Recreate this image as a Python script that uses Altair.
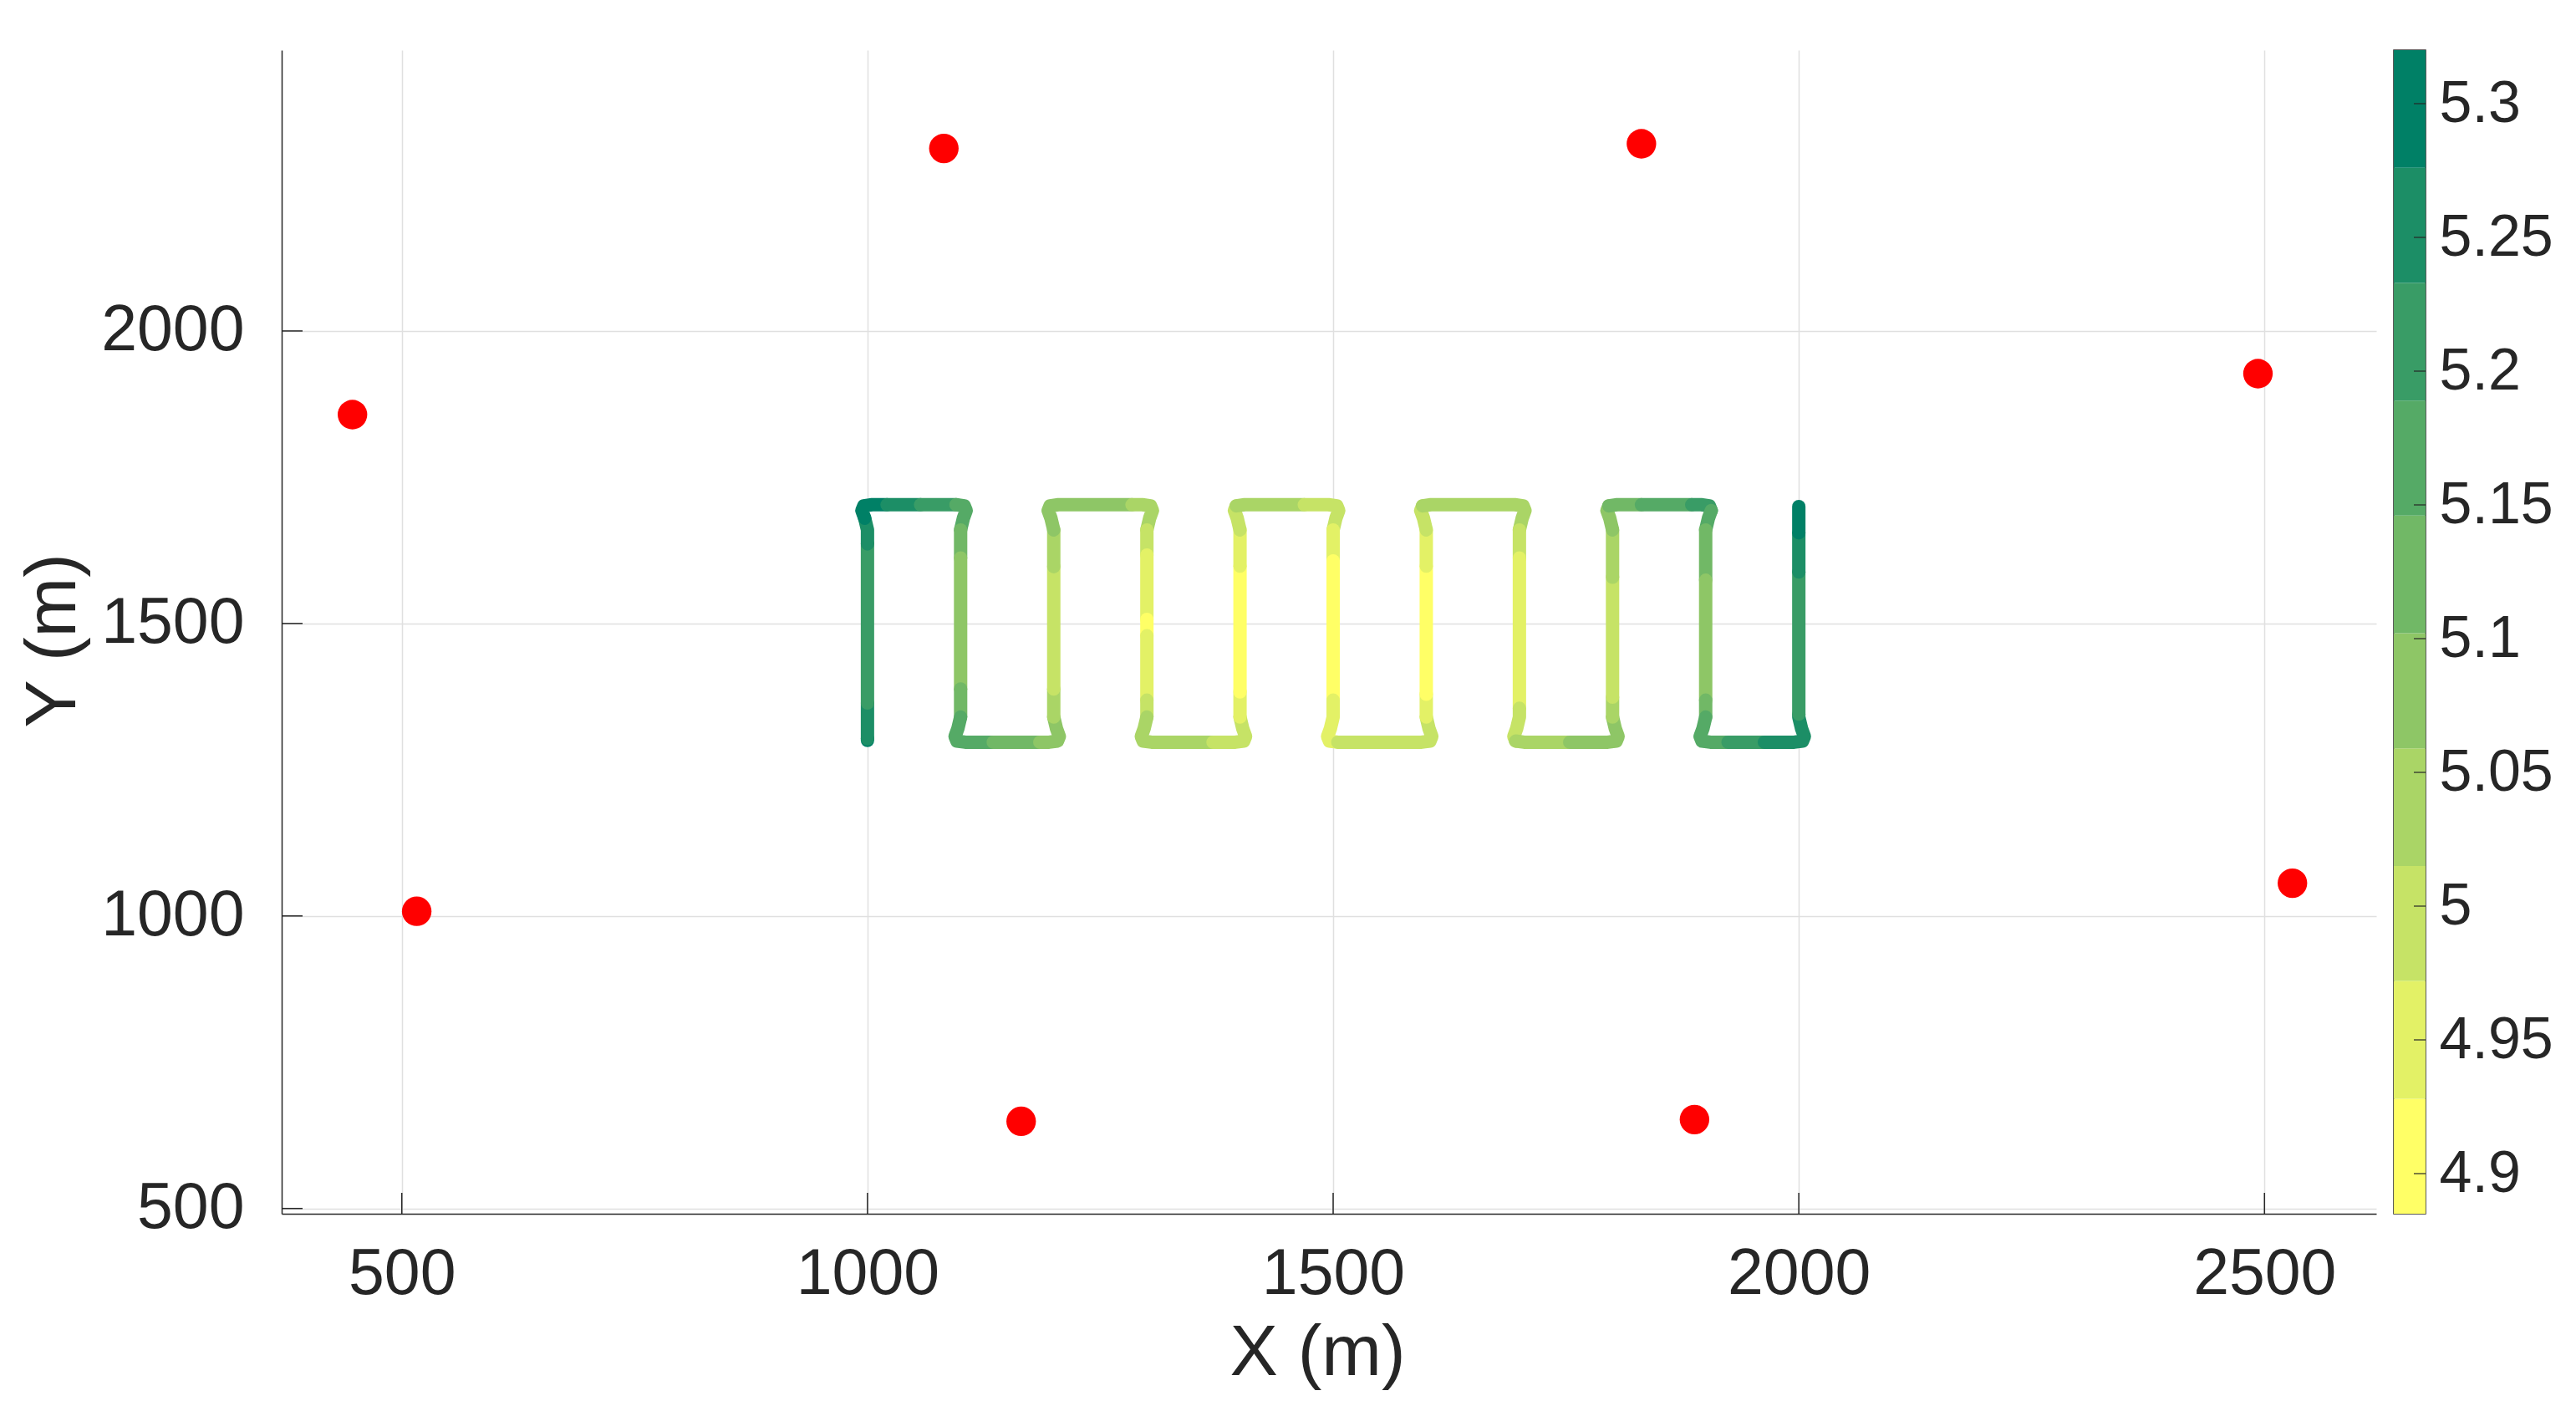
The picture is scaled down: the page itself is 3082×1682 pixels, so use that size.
import altair as alt
import pandas as pd

# ---------------- axes ----------------
X_DOMAIN = [371, 2620]
Y_DOMAIN = [491, 2480]
X_TICKS = [500, 1000, 1500, 2000, 2500]
Y_TICKS = [500, 1000, 1500, 2000]

# ---------------- red anchor points ----------------
ANCHOR_X = [447, 516, 1082, 1165, 1831, 1888, 2493, 2530]
ANCHOR_Y = [1857, 1008, 2312, 649, 2320, 652, 1927, 1056]

# ---------------- colour bar (10 filled levels) ----------------
LEVEL_EDGES = [4.885, 4.928, 4.972, 5.015, 5.059, 5.102, 5.146, 5.189, 5.233, 5.276, 5.320]
LEVEL_COLORS = ["#ffff66", "#e3f166", "#c6e366", "#aad566", "#8ec666",
                "#71b866", "#55aa66", "#399c66", "#1c8e66", "#008066"]
CBAR_TICKS = [4.9, 4.95, 5.0, 5.05, 5.1, 5.15, 5.2, 5.25, 5.3]

# ---------------- survey path ----------------
LANE_X = [1000, 1100, 1200, 1300, 1400, 1500, 1600, 1700, 1800, 1900, 2000]
PATH_START_Y = 1300
PATH_END_Y = 1700
LANE_LOW = 1340
LANE_HIGH = 1660
# turn template (offsets from lane end), with a station number for colour breaks
CORNER_IN_DX = [0, -3, -6, -4, 5]
CORNER_IN_DY = [0, 20, 33, 41, 43]
CORNER_IN_ST = [-40, -30, -20, -10, 5]
CORNER_OUT_DX = [95, 104, 106, 103, 100]
CORNER_OUT_DY = [43, 41, 33, 20, 0]
CORNER_OUT_ST = [95, 110, 120, 130, 140]

# colour level changes along each lane, in travel order: (y, level)
LANE_BANDS = [
    [(1300, 9), (1303, 8), (1364, 7), (1636, 8)],
    [(1660, 5), (1612, 4), (1388, 5)],
    [(1340, 3), (1388, 2), (1597, 3)],
    [(1660, 2), (1617, 1), (1507, 0), (1479, 1), (1369, 2)],
    [(1340, 1), (1383, 0), (1598, 1)],
    [(1660, 1), (1607, 0), (1369, 1)],
    [(1340, 1), (1379, 0), (1598, 1)],
    [(1660, 2), (1612, 1), (1355, 2)],
    [(1340, 3), (1374, 2), (1579, 3)],
    [(1660, 5), (1574, 4), (1369, 5)],
    [(1340, 8), (1345, 7), (1588, 8), (1655, 9)],
]
# colour level changes along each turn: (station, level)
TURN_BANDS = [
    [(-40, 8), (-30, 9), (21, 8), (57, 7), (95, 6)],
    [(-40, 6), (35, 5), (85, 4)],
    [(-40, 4), (84, 3)],
    [(-40, 3), (71, 2)],
    [(-40, 2), (-10, 3), (69, 2)],
    [(-40, 1), (5, 2)],
    [(-40, 2), (-10, 3)],
    [(-40, 2), (-10, 3), (54, 4)],
    [(-40, 4), (-10, 5), (31, 6), (85, 7), (120, 6)],
    [(-40, 6), (24, 7), (63, 8)],
]

# ---------------- build path table ----------------
verts = []


def push(x, y, band=None):
    if verts and abs(verts[-1][0] - x) < 1e-9 and abs(verts[-1][1] - y) < 1e-9:
        if band is not None:
            verts[-1][2] = band
        return
    verts.append([x, y, band])


n_lanes = len(LANE_X)
for i, lx in enumerate(LANE_X):
    up = (i % 2 == 0)
    y0 = PATH_START_Y if i == 0 else (LANE_LOW if up else LANE_HIGH)
    push(lx, y0)
    for yb, b in LANE_BANDS[i]:
        push(lx, yb, b)
    if i == n_lanes - 1:
        push(lx, PATH_END_Y)
        break
    sign = 1 if up else -1
    base = LANE_HIGH if up else LANE_LOW
    spec = dict(TURN_BANDS[i])
    tv = []
    for dx, dy, st in zip(CORNER_IN_DX, CORNER_IN_DY, CORNER_IN_ST):
        tv.append((st, lx + dx, base + sign * dy))
    for st in spec:
        if 5 < st < 95:
            tv.append((st, lx + st, base + sign * CORNER_IN_DY[-1]))
    for dx, dy, st in zip(CORNER_OUT_DX, CORNER_OUT_DY, CORNER_OUT_ST):
        tv.append((st, lx + dx, base + sign * dy))
    tv.sort(key=lambda t: t[0])
    for st, x, y in tv:
        push(x, y, spec.get(st))

bands = []
cur = None
for v in verts:
    if v[2] is not None:
        cur = v[2]
    bands.append(cur)

rows = []
run_id = -1
prev = None
cnt = 0
for k in range(len(verts) - 1):
    if bands[k] != prev:
        run_id += 1
        prev = bands[k]
        cnt = 0
        rows.append(dict(run=run_id, order=cnt, x=verts[k][0], y=verts[k][1], band=bands[k]))
    cnt += 1
    rows.append(dict(run=run_id, order=cnt, x=verts[k + 1][0], y=verts[k + 1][1], band=bands[k]))
path_df = pd.DataFrame(rows)

anchor_df = pd.DataFrame({"x": ANCHOR_X, "y": ANCHOR_Y})
xtick_df = pd.DataFrame({"x": X_TICKS})
ytick_df = pd.DataFrame({"y": Y_TICKS})
cbar_df = pd.DataFrame({"lo": LEVEL_EDGES[:-1], "hi": LEVEL_EDGES[1:], "band": list(range(10))})
cbtick_df = pd.DataFrame({"lo": CBAR_TICKS})

# ---------------- chart ----------------
W, H = 2506, 1392
CB_W = 38
TXT = "#262626"
FONT = "Liberation Sans"

x_scale = alt.Scale(domain=X_DOMAIN, nice=False, zero=False)
y_scale = alt.Scale(domain=Y_DOMAIN, nice=False, zero=False)
common = dict(ticks=False, format="d", labelFont=FONT, titleFont=FONT, labelFontSize=77,
              titleFontSize=86, titleFontWeight="normal", labelColor=TXT, titleColor=TXT,
              domainColor=TXT, domainWidth=1.5, grid=True, gridColor="#e0e0e0", gridWidth=1.5)
x_axis = alt.Axis(values=X_TICKS, title="X (m)", labelPadding=34, titlePadding=14,
                  titleX=W / 2 - 14, **common)
y_axis = alt.Axis(values=Y_TICKS, title="Y (m)", labelPadding=45, titlePadding=30,
                  titleY=H / 2 + 10, **common)
X = alt.X("x:Q", scale=x_scale, axis=x_axis)
Y = alt.Y("y:Q", scale=y_scale, axis=y_axis)
color = alt.Color("band:O", scale=alt.Scale(domain=list(range(10)), range=LEVEL_COLORS), legend=None)

path = alt.Chart(path_df).mark_line(strokeWidth=16, strokeCap="round", strokeJoin="round").encode(
    x=X, y=Y, detail="run:N", order="order:Q", color=color)
points = alt.Chart(anchor_df).mark_circle(size=1250, color="#ff0000", opacity=1).encode(x=X, y=Y)
xticks = alt.Chart(xtick_df).mark_rule(color=TXT, strokeWidth=1.5).encode(
    x=X, y=alt.value(H), y2=alt.value(H - 25))
yticks = alt.Chart(ytick_df).mark_rule(color=TXT, strokeWidth=1.5).encode(
    y=Y, x=alt.value(0), x2=alt.value(25))

main = alt.layer(path, points, xticks, yticks).properties(
    width=W, height=H, view=alt.ViewBackground(stroke=None))

cb_scale = alt.Scale(domain=[LEVEL_EDGES[0], LEVEL_EDGES[-1]], nice=False, zero=False)
cb_axis = alt.Axis(orient="right", values=CBAR_TICKS, format=".2~f", title=None, ticks=False,
                   domain=False, grid=False, labelFont=FONT, labelFontSize=70,
                   labelColor=TXT, labelPadding=16)
cb_rect = alt.Chart(cbar_df).mark_rect().encode(
    y=alt.Y("lo:Q", scale=cb_scale, axis=cb_axis), y2="hi:Q",
    x=alt.value(0), x2=alt.value(CB_W), color=color)
cb_ticks = alt.Chart(cbtick_df).mark_rule(color=TXT, strokeWidth=1.2).encode(
    y=alt.Y("lo:Q", scale=cb_scale, axis=cb_axis), x=alt.value(CB_W - 14), x2=alt.value(CB_W))
cbar = alt.layer(cb_rect, cb_ticks).properties(
    width=CB_W, height=H, view=alt.ViewBackground(stroke=TXT, strokeWidth=1.5))

chart = alt.hconcat(main, cbar, spacing=20).properties(
    padding={"left": 12, "top": 51, "right": 5, "bottom": 5},
    background="white",
)

chart.save("out.html", embed_options={"renderer": "svg", "actions": False})
